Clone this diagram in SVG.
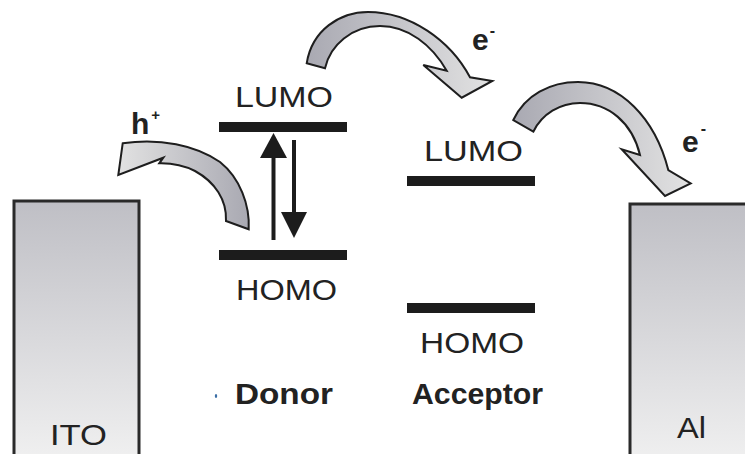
<svg xmlns="http://www.w3.org/2000/svg" width="745" height="454" viewBox="0 0 745 454">
<defs>
<linearGradient id="elec" x1="0" y1="0" x2="0" y2="1">
<stop offset="0" stop-color="#bfbfc5"/>
<stop offset="1" stop-color="#f2f2f2"/>
</linearGradient>
<linearGradient id="arrowFill" x1="0" y1="0" x2="1" y2="0">
<stop offset="0" stop-color="#a9a9b2"/>
<stop offset="1" stop-color="#e2e2e2"/>
</linearGradient>
<linearGradient id="arrowFillL" x1="1" y1="0" x2="0" y2="0">
<stop offset="0" stop-color="#a9a9b2"/>
<stop offset="1" stop-color="#e2e2e2"/>
</linearGradient>
</defs>
<style>
.t{font-family:"Liberation Sans",Arial,sans-serif;fill:#222;font-size:30px}
.b{font-weight:bold}
.bar{fill:#1c1c1c}
.elec{fill:url(#elec);stroke:#2a2a2a;stroke-width:3}
.curve{fill:url(#arrowFill);stroke:#1e1e1e;stroke-width:2;stroke-linejoin:miter}
.shaft{stroke:#1c1c1c;stroke-width:4}
.head{fill:#1c1c1c}
</style>
<rect width="745" height="454" fill="#ffffff"/>

<g id="ito">
<rect class="elec" x="14" y="201" width="125" height="270"/>
<text class="t" x="50" y="445" textLength="57" lengthAdjust="spacingAndGlyphs">ITO</text>
</g>

<g id="al">
<rect class="elec" x="630" y="204" width="140" height="270"/>
<text class="t" x="677" y="438" textLength="29" lengthAdjust="spacingAndGlyphs">Al</text>
</g>

<g id="donor-lumo">
<text class="t" x="235" y="107" textLength="98" lengthAdjust="spacingAndGlyphs">LUMO</text>
<rect class="bar" x="219" y="122" width="128" height="10"/>
</g>

<g id="donor-homo">
<rect class="bar" x="219" y="250" width="128" height="10"/>
<text class="t" x="236" y="300" textLength="101" lengthAdjust="spacingAndGlyphs">HOMO</text>
</g>

<g id="acceptor-lumo">
<text class="t" x="424" y="161" textLength="99" lengthAdjust="spacingAndGlyphs">LUMO</text>
<rect class="bar" x="407" y="176" width="128" height="10"/>
</g>

<g id="acceptor-homo">
<rect class="bar" x="407" y="303" width="128" height="10"/>
<text class="t" x="420" y="353" textLength="104" lengthAdjust="spacingAndGlyphs">HOMO</text>
</g>

<g id="donor-label">
<ellipse cx="216" cy="396" rx="1.2" ry="2" fill="#3a6ea5"/>
<text class="t b" x="235" y="404" textLength="98" lengthAdjust="spacingAndGlyphs">Donor</text>
</g>

<g id="acceptor-label">
<text class="t b" x="412" y="404" textLength="131" lengthAdjust="spacingAndGlyphs">Acceptor</text>
</g>

<g id="carrier-labels">
<text class="t b" x="131" y="134" font-size="29">h<tspan font-size="15" dx="2" dy="-14">+</tspan></text>
<text class="t b" x="472" y="50">e<tspan font-size="16" dx="1" dy="-14">-</tspan></text>
<text class="t b" x="682" y="152">e<tspan font-size="16" dx="2" dy="-18">-</tspan></text>
</g>

<g id="connectors">
<line class="shaft" x1="273.5" y1="240" x2="273.5" y2="156"/>
<polygon class="head" points="273.5,133 260,158 287,158"/>
<line class="shaft" x1="294" y1="140" x2="294" y2="214"/>
<polygon class="head" points="281,212 307,212 294,238"/>
<path class="curve" style="fill:url(#arrowFillL)" d="M122.7,143.3 C160,138 195,145 220,162 C240,178 250,205 248.7,229.3 L226,221 C227,200 215,182 195,171 C185,166 172,163 159.3,163.3 L163.3,157.7 L118.3,175 Z"/>
<path class="curve" d="M306.7,63.3 C312,30 340,12 368,12 C410,12 450,40 470,77.3 L492.3,81 L461.7,97.7 L423.3,65 L446.7,70.7 C432,45 408,26 380,26 C352,26 330,45 325,68.3 Z"/>
<path class="curve" d="M513.3,120 C525,95 550,82 578,82 C620,82 655,118 668.3,170 L690.7,183.3 L665,196 L621.7,149.3 L640,155 C632,122 608,103 580,103 C560,103 542,114 533.3,131.7 Z"/>
</g>
</svg>
